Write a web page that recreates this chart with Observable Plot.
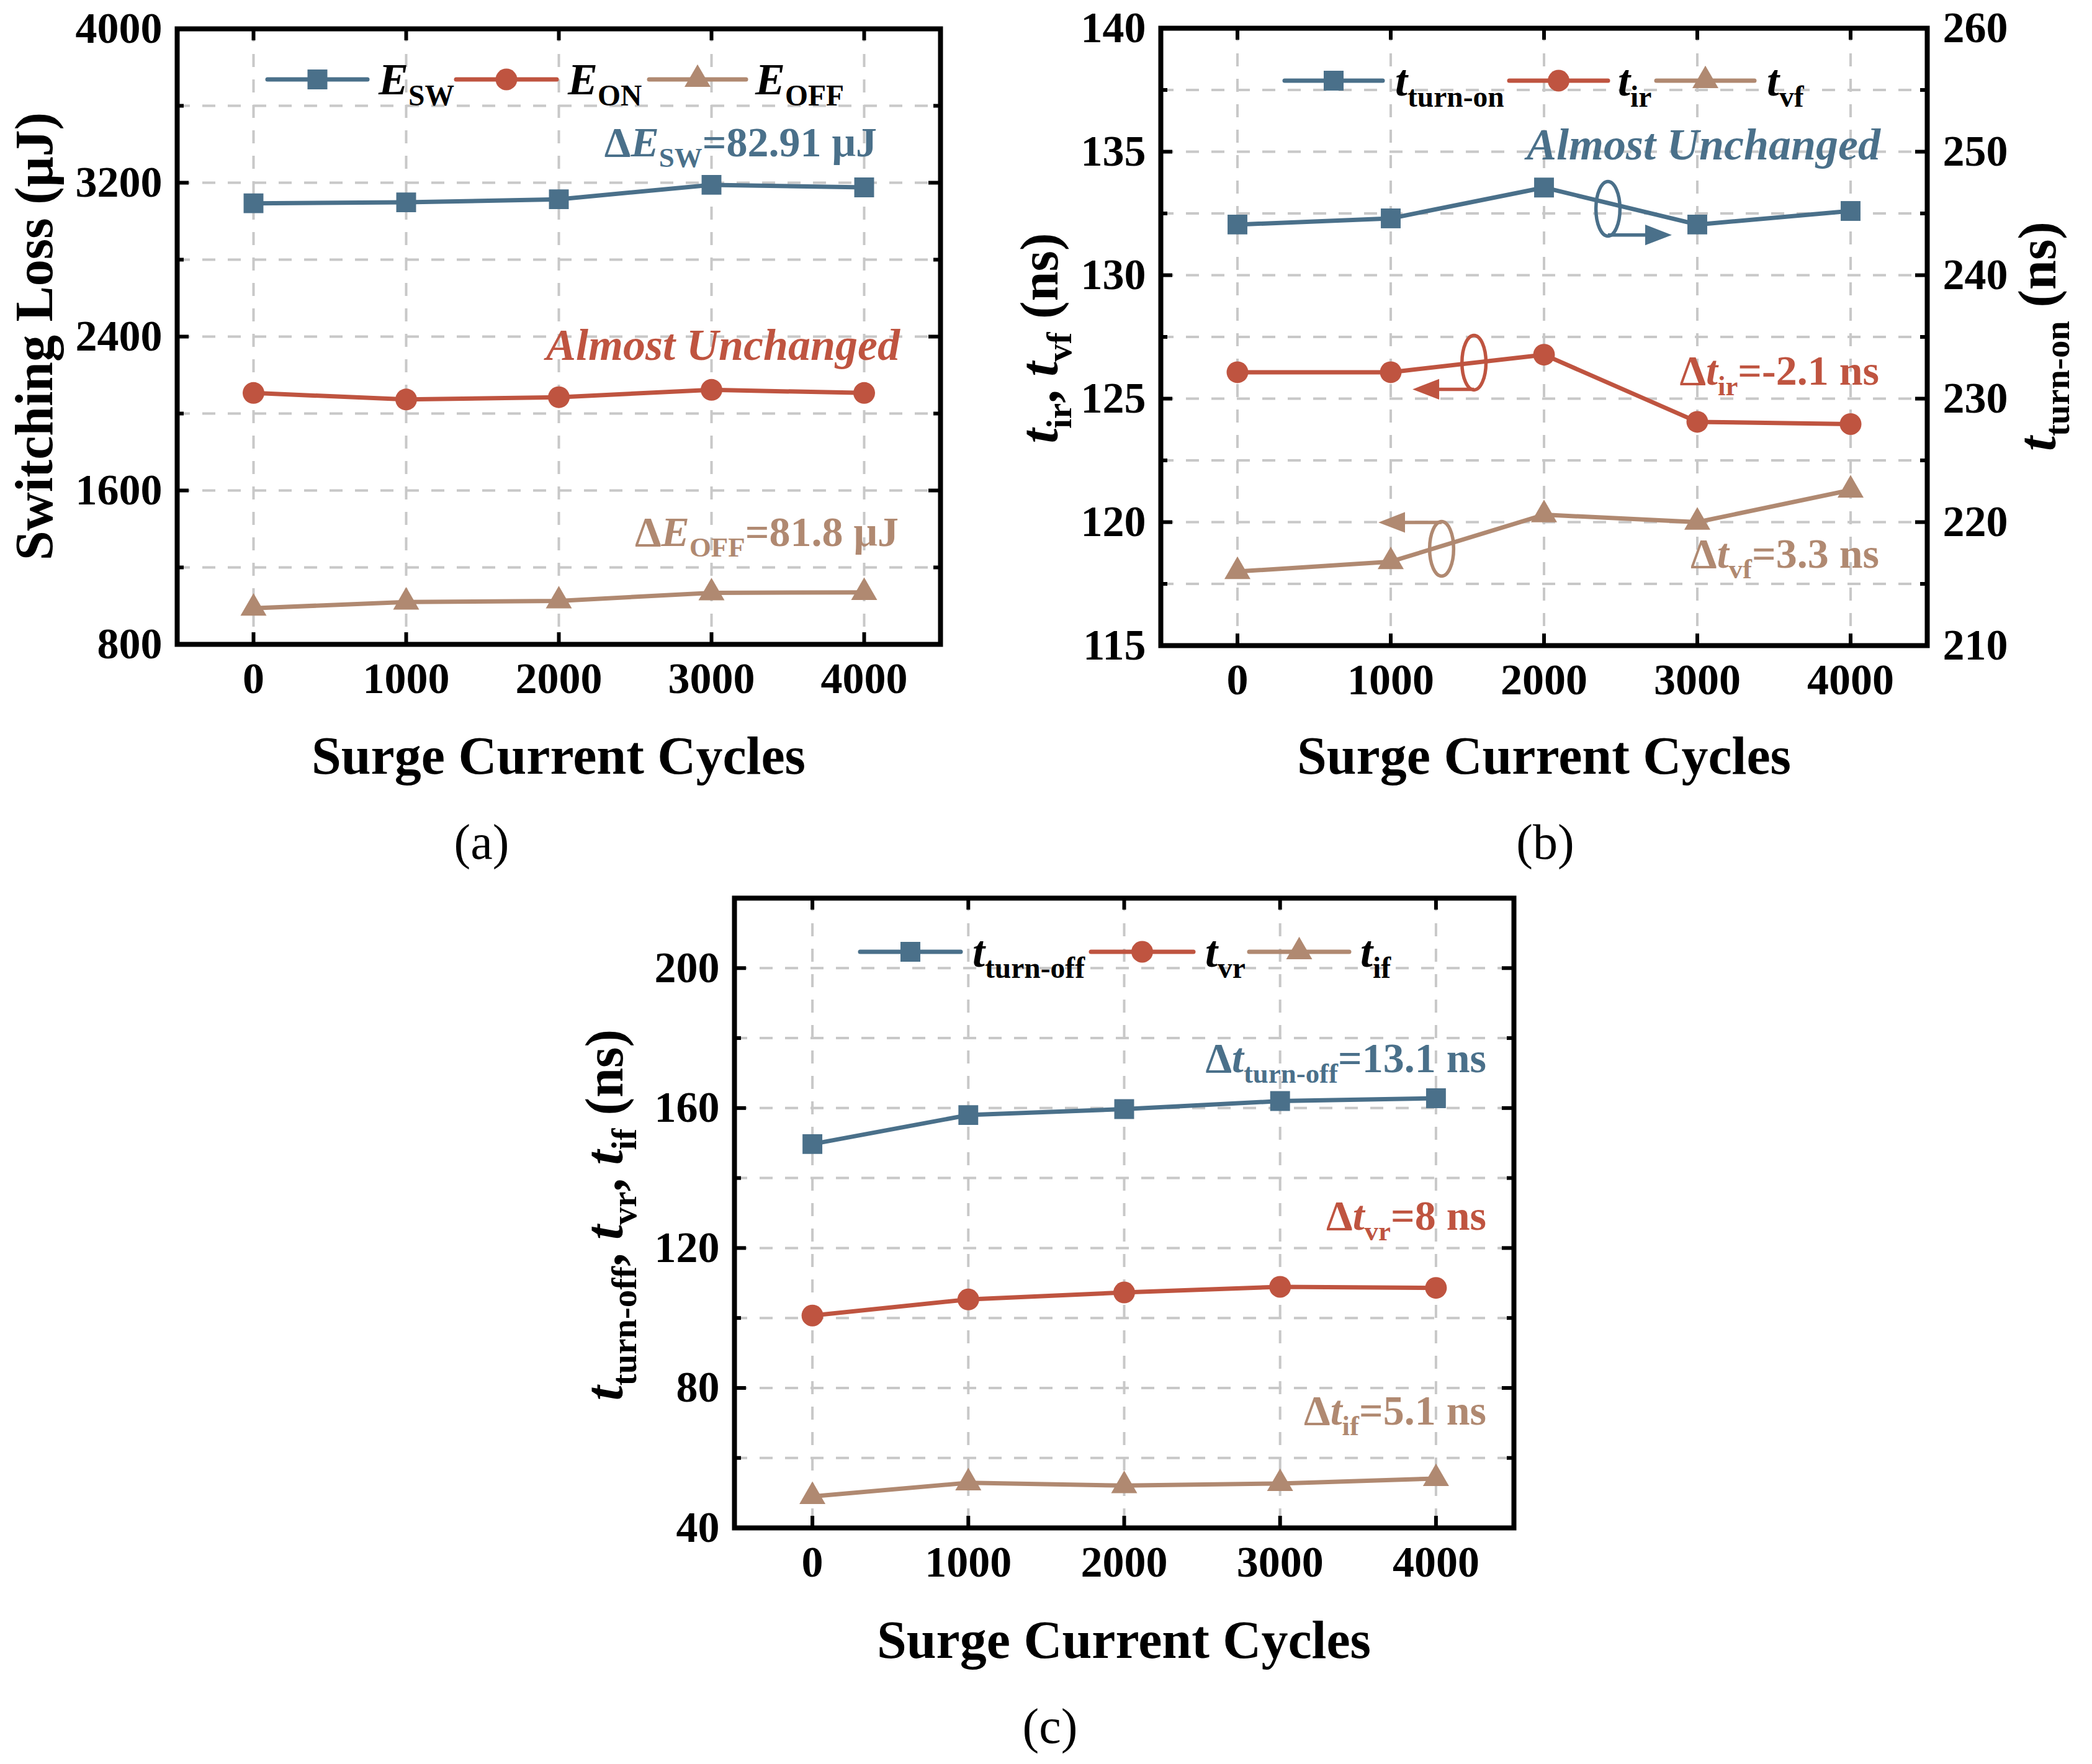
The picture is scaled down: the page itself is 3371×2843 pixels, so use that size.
<!DOCTYPE html>
<html><head><meta charset="utf-8">
<script src="https://cdn.jsdelivr.net/npm/d3@7"></script>
<script src="https://cdn.jsdelivr.net/npm/@observablehq/plot@0.6"></script>
<style>
html,body{margin:0;padding:0;background:#fff;}
#root{position:relative;width:3371px;height:2843px;overflow:hidden;background:#fff;font-family:'Liberation Serif','Times New Roman',serif;}
.abs{position:absolute;white-space:nowrap;line-height:1;}
.sub{font-size:0.66em;position:relative;top:0.38em;font-style:normal;}
svg.sw{position:absolute;overflow:visible;}
</style></head><body><div id="root"></div>
<script>
// ---------------- data ----------------
const cycles = [0, 1000, 2000, 3000, 4000];
const E_SW = [3093, 3098, 3114, 3189, 3176];
const E_ON = [2107, 2073, 2085, 2123, 2107];
const E_OFF = [988, 1020, 1026, 1068, 1070];
const t_turn_on = [244.1, 244.6, 247.1, 244.1, 245.2];   // right axis (ns)
const t_ir = [126.07, 126.07, 126.78, 124.06, 123.97];
const t_vf = [118.0, 118.4, 120.3, 120.0, 121.3];
const t_turn_off = [149.7, 158.0, 159.7, 162.0, 162.8];
const t_vr = [100.7, 105.3, 107.3, 108.9, 108.6];
const t_if = [49.0, 52.9, 52.1, 52.7, 54.1];

const xTicks = [0, 1000, 2000, 3000, 4000];
const aYTicks = [800, 1600, 2400, 3200, 4000];
const aYMinor = [1200, 2000, 2800, 3600];
const bYTicks = [115, 120, 125, 130, 135, 140];
const bYMinor = [117.5, 122.5, 127.5, 132.5, 137.5];
const bRightTicks = [210, 220, 230, 240, 250, 260];
const cYTicks = [40, 80, 120, 160, 200];
const cYMinor = [60, 100, 140, 180, 220];

const colors = {blue: "#4a708a", red: "#bf5440", tan: "#b08971"};

// ring + arrow annotations of panel (b), in data units (x: cycles, y: left axis ns)
const rings = [
  {cx: 2417, cy: 132.69, ax: 2417, ay: 131.63, tx: 2660, dir: 1, color: colors.blue},
  {cx: 1543, cy: 126.46, ax: 1543, ay: 125.38, tx: 1316, dir: -1, color: colors.red},
  {cx: 1332, cy: 118.92, ax: 1332, ay: 119.99, tx: 1093, dir: -1, color: colors.tan}
];

// right axis (210..260) mapped onto the left axis (115..140)
const rightToLeft = v => 115 + (v - 210) / 2;
const leftToRight = v => 210 + (v - 115) * 2;

const ser = ys => cycles.map((x, i) => ({x, y: ys[i]}));

const root = document.getElementById("root");
const FONT = "'Liberation Serif','Times New Roman',serif";

const ellipseSymbol = {
  draw(ctx, size) {
    const r = Math.sqrt(size / Math.PI);
    const rx = r * 0.44, ry = r, k = 0.5523;
    ctx.moveTo(rx, 0);
    ctx.bezierCurveTo(rx, ry * k, rx * k, ry, 0, ry);
    ctx.bezierCurveTo(-rx * k, ry, -rx, ry * k, -rx, 0);
    ctx.bezierCurveTo(-rx, -ry * k, -rx * k, -ry, 0, -ry);
    ctx.bezierCurveTo(rx * k, -ry, rx, -ry * k, rx, 0);
    ctx.closePath();
  }
};
// filled arrowhead: base centred on the origin, tip pointing up before rotation
const headSymbol = {
  draw(ctx, size) {
    const r = Math.sqrt(size / Math.PI);
    ctx.moveTo(0, -r * 1.65);
    ctx.lineTo(r * 0.64, 0);
    ctx.lineTo(-r * 0.64, 0);
    ctx.closePath();
  }
};

const gridStyle = {stroke: "#c8c8c8", strokeWidth: 4, strokeDasharray: "21,20"};
const tickStyle = {stroke: "#000", strokeWidth: 6};

function panel(cfg) {
  const iw = cfg.width - cfg.mL - cfg.mR, ih = cfg.height - cfg.mT - cfg.mB;
  const marks = [
    Plot.ruleX(xTicks, {x: d => d, ...gridStyle}),
    Plot.ruleY(cfg.grid, {y: d => d, ...gridStyle}),
    ...cfg.series.flatMap(s => [
      Plot.line(s.data, {x: "x", y: "y", stroke: s.color, strokeWidth: 7}),
      Plot.dot(s.data, {x: "x", y: "y", symbol: s.symbol, r: s.r, fill: s.color, stroke: "none"})
    ]),
    ...(cfg.extra || []),
    Plot.frame({stroke: "#000", strokeWidth: 8}),
    Plot.tickX(xTicks, {x: d => d, insetTop: ih - 19, ...tickStyle}),
    Plot.tickX(xTicks, {x: d => d, insetBottom: ih - 19, ...tickStyle}),
    Plot.tickY(cfg.yTicks, {y: d => d, insetRight: iw - 19, ...tickStyle}),
    Plot.tickY(cfg.yTicks, {y: d => d, insetLeft: iw - 19, ...tickStyle}),
    Plot.tickY(cfg.yMinor, {y: d => d, insetRight: iw - 11, ...tickStyle}),
    Plot.tickY(cfg.yMinor, {y: d => d, insetLeft: iw - 11, ...tickStyle}),
    Plot.axisX({anchor: "bottom", ticks: xTicks, tickSize: 0, tickPadding: 29, tickFormat: d => String(d), label: null}),
    Plot.axisY({anchor: "left", ticks: cfg.yTicks, tickSize: 0, tickPadding: 24, tickFormat: d => String(d), label: null}),
    ...(cfg.rightAxis ? [Plot.axisY({anchor: "right", ticks: cfg.yTicks, tickSize: 0, tickPadding: 25, tickFormat: cfg.rightAxis, label: null})] : [])
  ];
  const svg = Plot.plot({
    width: cfg.width, height: cfg.height,
    marginLeft: cfg.mL, marginRight: cfg.mR, marginTop: cfg.mT, marginBottom: cfg.mB,
    x: {domain: [-500, 4500]},
    y: {domain: cfg.yDomain},
    style: {fontFamily: FONT, fontSize: "70px", fontWeight: "bold", color: "#000", background: "transparent", overflow: "visible"},
    marks
  });
  svg.style.position = "absolute";
  svg.style.left = cfg.left + "px";
  svg.style.top = cfg.top + "px";
  root.appendChild(svg);
}

// ---------------- panels ----------------
panel({
  left: 0, top: 0, width: 1560, height: 1150, mL: 285, mR: 45, mT: 46, mB: 112,
  yDomain: [800, 4000], yTicks: aYTicks, yMinor: aYMinor,
  grid: [1200, 1600, 2000, 2400, 2800, 3200, 3600],
  series: [
    {data: ser(E_SW), color: colors.blue, symbol: "square", r: 18},
    {data: ser(E_ON), color: colors.red, symbol: "circle", r: 17.5},
    {data: ser(E_OFF), color: colors.tan, symbol: "triangle", r: 15.6}
  ]
});

panel({
  left: 1700, top: 0, width: 1560, height: 1150, mL: 170, mR: 155, mT: 45, mB: 110,
  yDomain: [115, 140], yTicks: bYTicks, yMinor: bYMinor,
  grid: [117.5, 120, 122.5, 125, 127.5, 130, 132.5, 135, 137.5],
  rightAxis: d => String(leftToRight(d)),
  series: [
    {data: ser(t_turn_on.map(rightToLeft)), color: colors.blue, symbol: "square", r: 18},
    {data: ser(t_ir), color: colors.red, symbol: "circle", r: 17.5},
    {data: ser(t_vf), color: colors.tan, symbol: "triangle", r: 15.6}
  ],
  extra: [
    Plot.dot(rings, {x: "cx", y: "cy", symbol: ellipseSymbol, r: 44, fill: "none", stroke: "color", strokeWidth: 5.5}),
    Plot.link(rings, {x1: "ax", y1: "ay", x2: "tx", y2: "ay", stroke: "color", strokeWidth: 5.5}),
    Plot.dot(rings, {x: "tx", y: "ay", symbol: headSymbol, r: 26, fill: "color", stroke: "none",
      rotate: d => d.dir > 0 ? 90 : -90})
  ]
});

panel({
  left: 1000, top: 1400, width: 1500, height: 1160, mL: 183, mR: 61, mT: 47, mB: 98,
  yDomain: [40, 220], yTicks: cYTicks, yMinor: cYMinor,
  grid: [60, 80, 100, 120, 140, 160, 180, 200],
  series: [
    {data: ser(t_turn_off), color: colors.blue, symbol: "square", r: 18},
    {data: ser(t_vr), color: colors.red, symbol: "circle", r: 17.5},
    {data: ser(t_if), color: colors.tan, symbol: "triangle", r: 15.6}
  ]
});

// ---------------- texts ----------------
function place(html, x, base, o = {}) {
  const fs = o.fs || 68;
  const d = document.createElement("div");
  d.className = "abs";
  d.style.left = x + "px";
  d.style.top = (base - 0.8375 * fs) + "px";
  d.style.fontSize = fs + "px";
  d.style.color = o.color || "#000";
  d.style.fontWeight = o.weight || "bold";
  if (o.italic) d.style.fontStyle = "italic";
  const tx = o.anchor === "end" ? "-100%" : o.anchor === "middle" ? "-50%" : "0";
  d.style.transform = `translateX(${tx})`;
  d.innerHTML = html;
  root.appendChild(d);
}
function vlabel(html, cx, cy, fs) {
  const d = document.createElement("div");
  d.className = "abs";
  d.style.left = cx + "px";
  d.style.top = cy + "px";
  d.style.fontSize = fs + "px";
  d.style.fontWeight = "bold";
  d.style.transform = "translate(-50%,-50%) rotate(-90deg)";
  d.innerHTML = html;
  root.appendChild(d);
}
const NS = "http://www.w3.org/2000/svg";
function swatch(x1, x2, cy, color, shape) {
  const w = x2 - x1;
  const s = document.createElementNS(NS, "svg");
  s.setAttribute("class", "sw");
  s.setAttribute("width", w); s.setAttribute("height", 60);
  s.style.left = x1 + "px"; s.style.top = (cy - 30) + "px";
  const ln = document.createElementNS(NS, "line");
  ln.setAttribute("x1", 3); ln.setAttribute("x2", w - 3); ln.setAttribute("y1", 30); ln.setAttribute("y2", 30);
  ln.setAttribute("stroke", color); ln.setAttribute("stroke-width", 7); ln.setAttribute("stroke-linecap", "round");
  s.appendChild(ln);
  const m = document.createElementNS(NS, "path");
  const c = w / 2;
  let dpath;
  if (shape === "square") dpath = `M${c-16},14h32v32h-32z`;
  else if (shape === "circle") dpath = `M${c-17.5},30a17.5,17.5 0 1,0 35,0a17.5,17.5 0 1,0 -35,0z`;
  else dpath = `M${c},${30-24.2}L${c+21},${30+12.1}L${c-21},${30+12.1}z`;
  m.setAttribute("d", dpath); m.setAttribute("fill", color);
  s.appendChild(m);
  root.appendChild(s);
}
const sub = t => `<span class="sub">${t}</span>`;
const it = t => `<i>${t}</i>`;

// legends
const legends = [
  {y: 128, items: [
    {x1: 428, x2: 595, lx: 610, color: colors.blue, shape: "square", html: it("E") + sub("SW")},
    {x1: 732, x2: 900, lx: 915, color: colors.red, shape: "circle", html: it("E") + sub("ON")},
    {x1: 1043, x2: 1205, lx: 1217, color: colors.tan, shape: "triangle", html: it("E") + sub("OFF")}
  ]},
  {y: 130, items: [
    {x1: 2067, x2: 2231, lx: 2248, color: colors.blue, shape: "square", html: it("t") + sub("turn-on")},
    {x1: 2429, x2: 2594, lx: 2607, color: colors.red, shape: "circle", html: it("t") + sub("ir")},
    {x1: 2666, x2: 2830, lx: 2847, color: colors.tan, shape: "triangle", html: it("t") + sub("vf")}
  ]},
  {y: 1534, items: [
    {x1: 1383, x2: 1551, lx: 1567, color: colors.blue, shape: "square", html: it("t") + sub("turn-off")},
    {x1: 1755, x2: 1926, lx: 1942, color: colors.red, shape: "circle", html: it("t") + sub("vr")},
    {x1: 2010, x2: 2177, lx: 2192, color: colors.tan, shape: "triangle", html: it("t") + sub("if")}
  ]}
];
for (const L of legends) for (const item of L.items) {
  swatch(item.x1, item.x2, L.y, item.color, item.shape);
  place(item.html, item.lx, L.y + 24, {fs: 72});
}

// annotations
place("Δ" + it("E") + sub("SW") + "=82.91 μJ", 1413, 252, {anchor: "end", color: colors.blue});
place(it("Almost Unchanged"), 1450, 580, {anchor: "end", color: colors.red, fs: 72});
place("Δ" + it("E") + sub("OFF") + "=81.8 μJ", 1448, 880, {anchor: "end", color: colors.tan});
place(it("Almost Unchanged"), 3030, 257, {anchor: "end", color: colors.blue, fs: 72});
place("Δ" + it("t") + sub("ir") + "=-2.1 ns", 3028, 620, {anchor: "end", color: colors.red});
place("Δ" + it("t") + sub("vf") + "=3.3 ns", 3028, 915, {anchor: "end", color: colors.tan});
place("Δ" + it("t") + sub("turn-off") + "=13.1 ns", 2395, 1728, {anchor: "end", color: colors.blue});
place("Δ" + it("t") + sub("vr") + "=8 ns", 2395, 1982, {anchor: "end", color: colors.red});
place("Δ" + it("t") + sub("if") + "=5.1 ns", 2395, 2296, {anchor: "end", color: colors.tan});

// axis titles
place("Surge Current Cycles", 900, 1247, {anchor: "middle", fs: 86});
place("Surge Current Cycles", 2488, 1247, {anchor: "middle", fs: 86});
place("Surge Current Cycles", 1811, 2672, {anchor: "middle", fs: 86});
vlabel("Switching Loss (μJ)", 55, 542, 86);
vlabel(it("t") + sub("ir") + ", " + it("t") + sub("vf") + " (ns)", 1675, 545, 86);
vlabel(it("t") + sub("turn-on") + " (ns)", 3283, 542, 86);
vlabel(it("t") + sub("turn-off") + ", " + it("t") + sub("vr") + ", " + it("t") + sub("if") + " (ns)", 974, 1958, 86);

// captions
place("(a)", 776, 1384, {anchor: "middle", weight: "normal", fs: 80});
place("(b)", 2490, 1384, {anchor: "middle", weight: "normal", fs: 80});
place("(c)", 1692, 2809, {anchor: "middle", weight: "normal", fs: 80});
</script>
</body></html>
